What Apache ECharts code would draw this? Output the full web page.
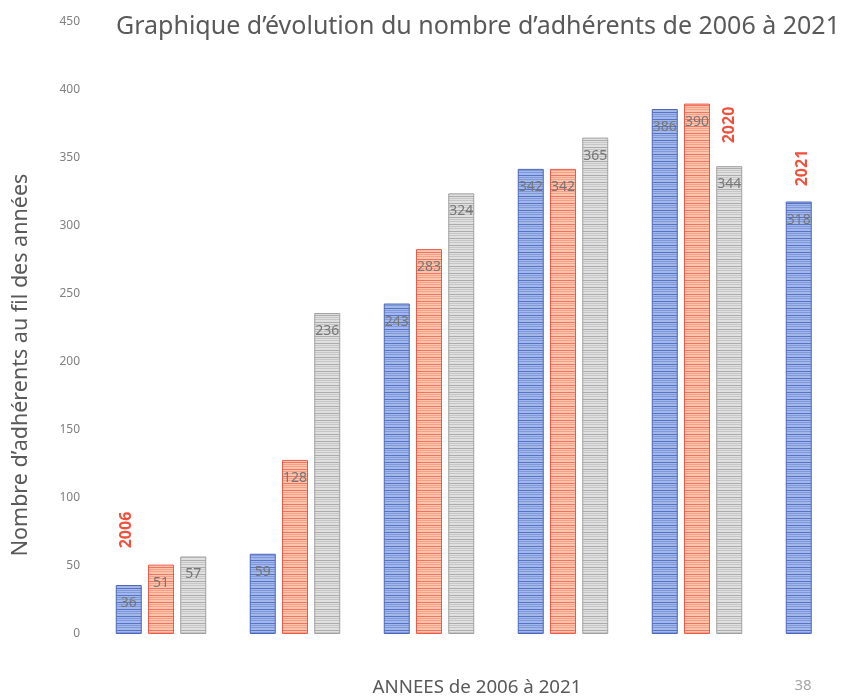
<!DOCTYPE html>
<html>
<head>
<meta charset="utf-8">
<script src="https://cdn.jsdelivr.net/npm/echarts@6/dist/echarts.min.js"></script>
<style>html,body{margin:0;padding:0;background:#fff;overflow:hidden;}#c{width:900px;height:699px;}</style>
</head>
<body>
<div id="c"></div>
<script>
var categories = ['2006', '2009', '2012', '2015', '2020', '2021'];
var serieBleue = [36, 59, 243, 342, 386, 318];
var serieRouge = [51, 128, 283, 342, 390, null];
var serieGrise = [57, 236, 324, 365, 344, null];
var yTicks = [0, 50, 100, 150, 200, 250, 300, 350, 400, 450];

function stripes(dark, light, mid) {
  var c = document.createElement('canvas');
  c.width = 4; c.height = 7;
  var g = c.getContext('2d');
  var rows = [dark, light, mid, light, mid, light, light];
  for (var i = 0; i < rows.length; i++) { g.fillStyle = rows[i]; g.fillRect(0, i, 4, 1); }
  return { image: c, repeat: 'repeat' };
}
var blueFill = stripes('#5573c8', '#a3b8e8', '#7d98dc');
var redFill = stripes('#f27460', '#fbc5ad', '#f6a085');
var grayFill = stripes('#acacac', '#e0e0e0', '#c6c6c6');

var chart = echarts.init(document.getElementById('c'));
var labelCfg = { show: true, position: 'insideTop', distance: 11, color: '#767676', fontSize: 14, fontFamily: 'Noto Sans' };
function mk(name, data, fill, border) {
  return {
    name: name, type: 'bar', data: data, barWidth: 26, barGap: '24%',
    itemStyle: { color: fill, borderColor: border, borderWidth: 1 },
    label: labelCfg, silent: true
  };
}
chart.setOption({
  animation: false,
  title: {
    text: 'Graphique d\u2019évolution du nombre d\u2019adhérents de 2006 à 2021',
    left: 111, top: 9,
    textStyle: { fontFamily: 'Noto Sans', fontSize: 25, fontWeight: 'normal', color: '#595959' }
  },
  grid: { left: 94, top: 22, width: 804, height: 612, containLabel: false },
  xAxis: {
    type: 'category', data: categories,
    axisLine: { show: false }, axisTick: { show: false }, axisLabel: { show: false },
    splitLine: { show: false }
  },
  yAxis: {
    type: 'value', min: yTicks[0], max: yTicks[yTicks.length - 1], interval: 50,
    axisLine: { show: false }, axisTick: { show: false }, splitLine: { show: false },
    axisLabel: { color: '#808080', fontSize: 12, fontFamily: 'Noto Sans', margin: 14 }
  },
  series: [
    mk('bleu', serieBleue, blueFill, '#4a66b8'),
    mk('rouge', serieRouge, redFill, '#ee5a48'),
    mk('gris', serieGrise, grayFill, '#a0a0a0')
  ],
  graphic: [
    { type: 'text', x: 21, y: 365, rotation: Math.PI / 2, style: { text: 'Nombre d\u2019adhérents au fil des années', fill: '#595959', font: '21.5px "Noto Sans"', textAlign: 'center', textVerticalAlign: 'middle' } },
    { type: 'text', x: 477, y: 688, style: { text: 'ANNEES de 2006 à 2021', fill: '#595959', font: '18.7px "Noto Sans"', textAlign: 'center', textVerticalAlign: 'middle' } },
    { type: 'text', x: 803, y: 686, style: { text: '38', fill: '#a6a6a6', font: '15px "Noto Sans"', textAlign: 'center', textVerticalAlign: 'middle' } },
    { type: 'text', x: 126, y: 530, rotation: Math.PI / 2, style: { text: '2006', fill: '#f0503c', font: 'bold 16px "Noto Sans"', textAlign: 'center', textVerticalAlign: 'middle' } },
    { type: 'text', x: 729, y: 125, rotation: Math.PI / 2, style: { text: '2020', fill: '#f0503c', font: 'bold 16px "Noto Sans"', textAlign: 'center', textVerticalAlign: 'middle' } },
    { type: 'text', x: 802, y: 168, rotation: Math.PI / 2, style: { text: '2021', fill: '#f0503c', font: 'bold 16px "Noto Sans"', textAlign: 'center', textVerticalAlign: 'middle' } }
  ]
});
</script>
</body>
</html>
